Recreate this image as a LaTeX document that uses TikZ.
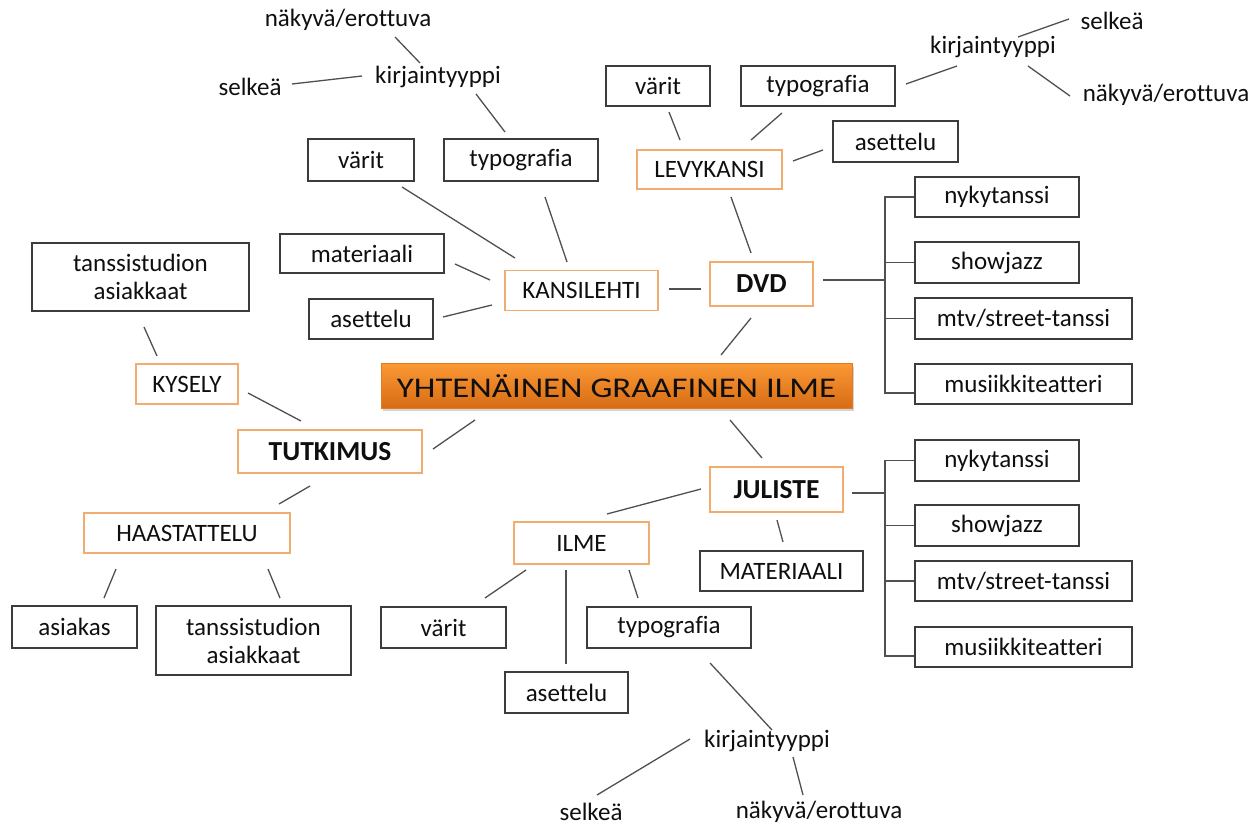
\documentclass[tikz,border=0pt]{standalone}
\usepackage{fontspec}
\setmainfont{Carlito}[Ligatures={NoCommon}]
\newfontfamily\titlef{Carlito}[FakeStretch=1.22, Ligatures={NoCommon}]
\usetikzlibrary{shadows}
\definecolor{linec}{RGB}{80,80,80}
\definecolor{boxc}{RGB}{60,60,60}
\definecolor{orc}{RGB}{242,172,112}
\definecolor{txt}{RGB}{15,15,15}
\definecolor{ortop}{RGB}{250,152,52}
\definecolor{orbot}{RGB}{216,108,20}
\definecolor{ordraw}{RGB}{226,122,32}
\newcommand\regf{\fontsize{25}{28}\selectfont}
\newcommand\bldf{\fontsize{27.5}{30}\selectfont\bfseries}
\newcommand\lnk[4]{\draw[conn] ([shift={(#2)}]#1.center) -- ([shift={(#4)}]#3.center);}
\tikzset{
  conn/.style={draw=linec, line width=1.3pt},
  bbox/.style={draw=boxc, line width=1.4pt, fill=white, inner sep=0pt, font=\regf, text=txt, align=center},
  obox/.style={draw=orc, line width=1.6pt, fill=white, inner sep=0pt, font=\regf, text=txt},
  plain/.style={inner sep=0pt, font=\regf, text=txt},
  sz/.style 2 args={minimum width=#1pt, minimum height=#2pt},
}
\begin{document}
\begin{tikzpicture}[x=1pt,y=-1pt]
\useasboundingbox (0,0) rectangle (1259,826);
% central node
\node[draw=ordraw, line width=1pt, top color=ortop, bottom color=orbot,
  drop shadow={opacity=0.35, shadow xshift=2pt, shadow yshift=-3pt},
  sz={471}{44}, inner sep=0pt, text=txt, font=\titlef\fontsize{28.5}{30}\selectfont]
  (main) at (616.5,386) {YHTENÄINEN GRAAFINEN ILME};
% orange boxes
\node[obox, sz={145}{39}] (levy) at (709.5,169.5) {LEVYKANSI};
\node[obox, sz={153}{40}] (kansi) at (581.5,290.5) {KANSILEHTI};
\node[obox, sz={103}{44}, font=\bldf] (dvd) at (761.5,284) {DVD};
\node[obox, sz={102}{40}] (kysely) at (187,384) {KYSELY};
\node[obox, sz={184}{43}, font=\bldf] (tutk) at (330,451.5) {TUTKIMUS};
\node[obox, sz={206}{40}] (haast) at (187,533) {HAASTATTELU};
\node[obox, sz={133}{45}, font=\bldf] (jul) at (776.5,489.5) {JULISTE};
\node[obox, sz={135}{42}] (ilme) at (581.5,543) {ILME};
% black boxes
\node[bbox, sz={106}{42}] (variA) at (361,160) {värit};
\node[bbox, sz={154}{42}] (typoA) at (521,160) {typografia};
\node[bbox, sz={164}{39}] (mater) at (362,253.5) {materiaali};
\node[bbox, sz={124}{40}] (asetA) at (371,319) {asettelu};
\node[bbox, sz={217}{68}] (tansA) at (140.5,277) {tanssistudion\\asiakkaat};
\node[bbox, sz={104}{40}] (variB) at (658,86) {värit};
\node[bbox, sz={154}{40}] (typoB) at (818,86) {typografia};
\node[bbox, sz={125}{41}] (asetB) at (895.5,141.5) {asettelu};
\node[bbox, sz={164}{40}] (nyk1) at (997,197) {nykytanssi};
\node[bbox, sz={164}{41}] (show1) at (997,262.5) {showjazz};
\node[bbox, sz={217}{41}] (mtv1) at (1023.5,318.5) {mtv/street-tanssi};
\node[bbox, sz={217}{40}] (mus1) at (1023.5,384) {musiikkiteatteri};
\node[bbox, sz={164}{41}] (nyk2) at (997,460.5) {nykytanssi};
\node[bbox, sz={164}{41}] (show2) at (997,525.5) {showjazz};
\node[bbox, sz={217}{40}] (mtv2) at (1023.5,581) {mtv/street-tanssi};
\node[bbox, sz={217}{40}] (mus2) at (1023.5,647) {musiikkiteatteri};
\node[bbox, sz={163}{40}] (mater2) at (781.5,571) {MATERIAALI};
\node[bbox, sz={125}{41}] (variC) at (443.5,627.5) {värit};
\node[bbox, sz={164}{41}] (typoC) at (669,627.5) {typografia};
\node[bbox, sz={123}{41}] (asetC) at (566.5,692.5) {asettelu};
\node[bbox, sz={125}{42}] (asiak) at (74.5,627) {asiakas};
\node[bbox, sz={195}{69}] (tansB) at (253.5,640.5) {tanssistudion\\asiakkaat};
% plain texts
\node[plain] (kirjA) at (438,77) {kirjaintyyppi};
\node[plain] (selkA) at (250,87) {selkeä};
\node[plain] (nakyA) at (348,20) {näkyvä/erottuva};
\node[plain] (kirjB) at (993,47) {kirjaintyyppi};
\node[plain] (selkB) at (1112,21) {selkeä};
\node[plain] (nakyB) at (1166,95) {näkyvä/erottuva};
\node[plain] (kirjC) at (767,741) {kirjaintyyppi};
\node[plain] (selkC) at (591,812) {selkeä};
\node[plain] (nakyC) at (819,812) {näkyvä/erottuva};
% connectors
\lnk{nakyA}{47,17}{kirjA}{-18,-14}
\lnk{selkA}{42,-3}{kirjA}{-76,-1}
\lnk{kirjA}{38,17}{typoA}{-16,-28}
\lnk{variA}{41,27}{kansi}{-66.5,-32.5}
\lnk{typoA}{24,37}{kansi}{-14.5,-28.5}
\lnk{mater}{93,10.5}{kansi}{-91.5,-10.5}
\lnk{asetA}{72,-2}{kansi}{-89.5,14.5}
\lnk{kansi}{87.5,-1.5}{dvd}{-60.5,5}
\lnk{levy}{21.5,27.5}{dvd}{-10.5,-31}
\lnk{variB}{11,26}{levy}{-29.5,-29.5}
\lnk{typoB}{-36,27}{levy}{41.5,-29.5}
\lnk{asetB}{-72.5,8.5}{levy}{83.5,-8.5}
\lnk{typoB}{88,-2}{kirjB}{-36,19}
\lnk{kirjB}{25,-10}{selkB}{-43,-2}
\lnk{kirjB}{35,19}{nakyB}{-96,1}
\lnk{dvd}{-10.5,34}{main}{104.5,-31}
\lnk{main}{113.5,34}{jul}{-14.5,-31.5}
\lnk{main}{-141.5,34}{tutk}{103,-2.5}
\lnk{kysely}{61,9}{tutk}{-29,-30.5}
\lnk{tansA}{3.5,50}{kysely}{-30,-28}
\lnk{tutk}{-20,34.5}{haast}{92,-29}
\lnk{haast}{-71,36}{asiak}{29.5,-29}
\lnk{haast}{81,36}{tansB}{26.5,-42.5}
\lnk{jul}{-75.5,-0.5}{ilme}{25.5,-29}
\lnk{jul}{0.5,30.5}{mater2}{1.5,-29}
\lnk{ilme}{-55.5,27}{variC}{41.5,-29.5}
\lnk{ilme}{-15.5,27}{asetC}{-0.5,-28.5}
\lnk{ilme}{47.5,27}{typoC}{-31,-29.5}
\lnk{typoC}{41,35.5}{kirjC}{5,-11}
\lnk{kirjC}{-77,-2}{selkC}{6,-17}
\lnk{kirjC}{26,16}{nakyC}{-16,-17}
% brackets
\coordinate (j1) at (885,280);
\coordinate (e1) at ([shift={(0,9)}]mus1.west);
\draw[conn] ([shift={(61.5,-4)}]dvd.center) -- (j1);
\draw[conn] (nyk1.west) -- (nyk1.west -| j1) -- (e1 -| j1) -- (e1);
\draw[conn] (show1.west -| j1) -- (show1.west);
\draw[conn] (mtv1.west -| j1) -- (mtv1.west);
\coordinate (j2) at (885,493);
\coordinate (e2) at ([shift={(0,9)}]mus2.west);
\draw[conn] ([shift={(75.5,3.5)}]jul.center) -- (j2);
\draw[conn] (nyk2.west) -- (nyk2.west -| j2) -- (e2 -| j2) -- (e2);
\draw[conn] (show2.west -| j2) -- (show2.west);
\draw[conn] (mtv2.west -| j2) -- (mtv2.west);
\end{tikzpicture}
\end{document}
